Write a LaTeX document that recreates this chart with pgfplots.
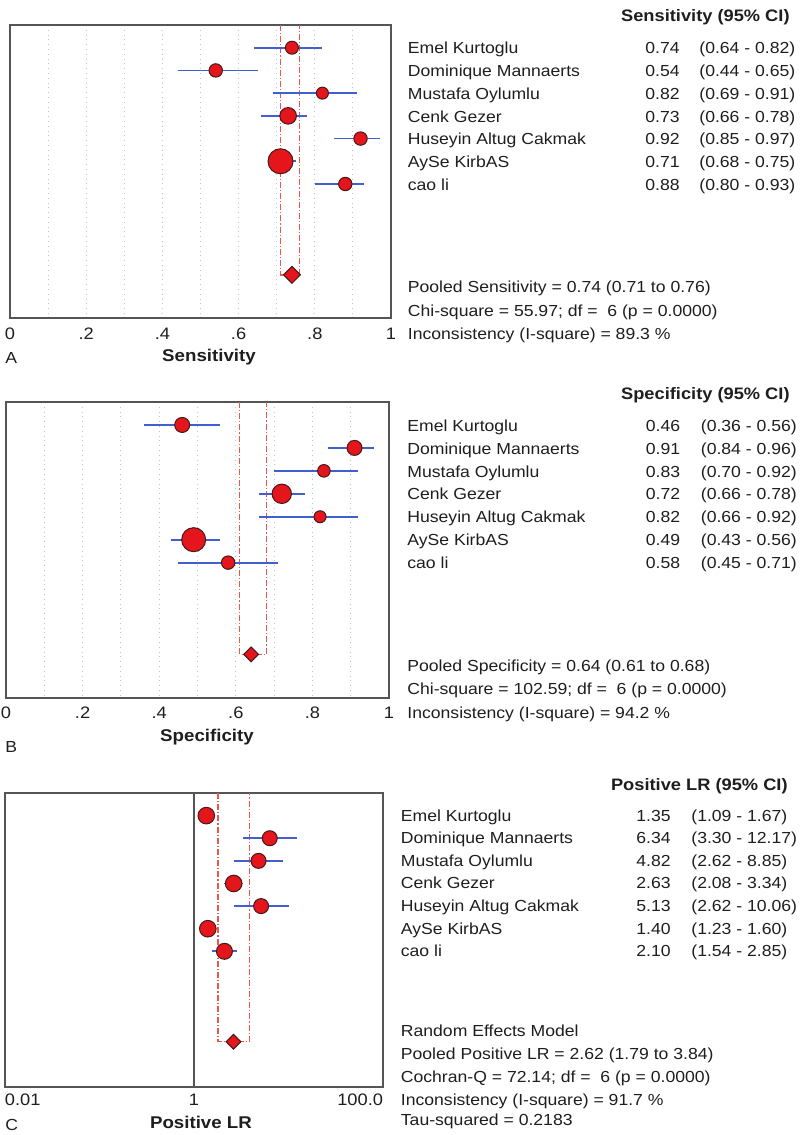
\documentclass[border=0pt]{standalone}
\usepackage{fontspec}
\setmainfont{Liberation Sans}[FakeStretch=1.1]
\usepackage{pgfplots}
\pgfplotsset{compat=1.18}
\definecolor{mred}{RGB}{228,22,28}
\definecolor{medge}{RGB}{70,25,25}
\definecolor{ciblue}{RGB}{65,95,205}
\definecolor{dred}{RGB}{240,85,75}
\definecolor{gridb}{RGB}{175,198,230}
\definecolor{framec}{RGB}{85,85,85}
\definecolor{txt}{RGB}{30,30,30}
\pgfplotsset{
 forest/.style={
   scale only axis, y dir=reverse, ymin=0, ymax=12.9,
   ytick=\empty, axis line style={framec, line width=0.7pt},
   major tick length=0pt, minor tick length=0pt,
   xticklabel style={anchor=base, font=\fontsize{8.3}{10}\selectfont, text=txt},
   every axis x label/.style={at={(axis description cs:0.5,0)}, anchor=base, font=\bfseries\fontsize{8.5}{10}\selectfont, text=txt},
   clip=false,
 },
 markers/.style={scatter, only marks, mark=*, scatter/use mapped color={draw=medge, fill=mred},
   visualization depends on={\thisrow{r}\as\rr},
   scatter/@pre marker code/.append style={/tikz/mark size=\rr}, line width=0.5pt},
 ci/.style={ciblue, line width=0.9pt, forget plot},
 pooledci/.style={dred, line width=0.7pt, dash pattern=on 3pt off 1pt on 0.6pt off 1pt, forget plot},
 diam/.style={only marks, mark=square*, mark size=#1, mark options={rotate=45, fill=mred, draw=medge, line width=0.5pt}},
}
\begin{document}
\begin{tikzpicture}
\path[use as bounding box] (0,0) rectangle (400pt,-567.5pt);
% ---------------- A ----------------
\begin{axis}[forest, at={(5pt,-12.5pt)}, anchor=north west, width=190.5pt, height=146.5pt,
  xmin=0, xmax=1, xtick={0,0.2,0.4,0.6,0.8,1}, xticklabels={0,.2,.4,.6,.8,1},
  minor xtick={0.1,0.3,0.5,0.7,0.9}, xmajorgrids, xminorgrids,
  grid style={gridb, dotted, line width=0.5pt},
  xticklabel style={yshift=-10.5pt},
  xlabel={Sensitivity}, every axis x label/.append style={yshift=-21.85pt, xshift=4.25pt}]
\addplot[pooledci] coordinates {(0.71,0) (0.71,11) (0.76,11) (0.76,0)};
\addplot[markers] table {
x y r
0.74 1 3.25
0.54 2 3.35
0.82 3 3.0
0.73 4 4.15
0.92 5 3.35
0.71 6 6.25
0.88 7 3.35
};
\addplot[ci] coordinates {(0.64,1) (0.82,1)};
\addplot[ci] coordinates {(0.44,2) (0.65,2)};
\addplot[ci] coordinates {(0.69,3) (0.91,3)};
\addplot[ci] coordinates {(0.66,4) (0.78,4)};
\addplot[ci] coordinates {(0.85,5) (0.97,5)};
\addplot[ci] coordinates {(0.68,6) (0.75,6)};
\addplot[ci] coordinates {(0.80,7) (0.93,7)};
\addplot[diam=3pt] coordinates {(0.74,11)};
\end{axis}
% ---------------- B ----------------
\begin{axis}[forest, at={(3pt,-201pt)}, anchor=north west, width=191.5pt, height=148pt,
  xmin=0, xmax=1, xtick={0,0.2,0.4,0.6,0.8,1}, xticklabels={0,.2,.4,.6,.8,1},
  minor xtick={0.1,0.3,0.5,0.7,0.9}, xmajorgrids, xminorgrids,
  grid style={gridb, dotted, line width=0.5pt},
  xticklabel style={yshift=-10pt},
  xlabel={Specificity}, every axis x label/.append style={yshift=-21.85pt, xshift=4.75pt}]
\addplot[pooledci] coordinates {(0.61,0) (0.61,11) (0.68,11) (0.68,0)};
\addplot[markers] table {
x y r
0.46 1 3.75
0.91 2 3.75
0.83 3 3.15
0.72 4 4.85
0.82 5 3.0
0.49 6 6.0
0.58 7 3.35
};
\addplot[ci] coordinates {(0.36,1) (0.56,1)};
\addplot[ci] coordinates {(0.84,2) (0.96,2)};
\addplot[ci] coordinates {(0.70,3) (0.92,3)};
\addplot[ci] coordinates {(0.66,4) (0.78,4)};
\addplot[ci] coordinates {(0.66,5) (0.92,5)};
\addplot[ci] coordinates {(0.43,6) (0.56,6)};
\addplot[ci] coordinates {(0.45,7) (0.71,7)};
\addplot[diam=2.6pt] coordinates {(0.64,11)};
\end{axis}
% ---------------- C ----------------
\begin{axis}[forest, at={(2.5pt,-396.5pt)}, anchor=north west, width=189pt, height=147pt,
  ymax=13, xmode=log, xmin=0.01, xmax=100, xtick={0.01,1,100},
  xticklabels={\makebox[0pt][l]{0.01},1,\makebox[0pt][r]{100.0}},
  xticklabel style={yshift=-9pt},
  xlabel={Positive LR}, every axis x label/.append style={yshift=-20.65pt, xshift=3.5pt}]
\addplot[framec, line width=0.6pt, forget plot] coordinates {(1,0) (1,13)};
\addplot[pooledci] coordinates {(1.79,0) (1.79,11) (3.84,11) (3.84,0)};
\addplot[markers] table {
x y r
1.35 1 4.15
6.34 2 3.75
4.82 3 3.75
2.63 4 4.15
5.13 5 3.75
1.40 6 4.15
2.10 7 4.0
};
\addplot[ci] coordinates {(1.09,1) (1.67,1)};
\addplot[ci] coordinates {(3.30,2) (12.17,2)};
\addplot[ci] coordinates {(2.62,3) (8.85,3)};
\addplot[ci] coordinates {(2.08,4) (3.34,4)};
\addplot[ci] coordinates {(2.62,5) (10.06,5)};
\addplot[ci] coordinates {(1.23,6) (1.60,6)};
\addplot[ci] coordinates {(1.54,7) (2.85,7)};
\addplot[diam=2.6pt] coordinates {(2.62,11)};
\end{axis}
% ---------------- text ----------------
\begin{scope}[x=0.5pt, y=-0.5pt, every node/.style={inner sep=0pt, text=txt, font=\fontsize{8}{9.6}\selectfont}]
% A
\node[anchor=base east, font=\bfseries\fontsize{8.3}{10}\selectfont] at (790,21) {Sensitivity (95\% CI)};
\foreach \n/\v/\c [count=\i from 0] in {Emel Kurtoglu/0.74/(0.64 - 0.82), Dominique Mannaerts/0.54/(0.44 - 0.65), Mustafa Oylumlu/0.82/(0.69 - 0.91), Cenk Gezer/0.73/(0.66 - 0.78), Huseyin Altug Cakmak/0.92/(0.85 - 0.97), AySe KirbAS/0.71/(0.68 - 0.75), cao li/0.88/(0.80 - 0.93)}{
  \node[anchor=base west] at (407.5,{54+22.7*\i}) {\n};
  \node[anchor=base east] at (680,{54+22.7*\i}) {\v};
  \node[anchor=base west] at (699,{54+22.7*\i}) {\c};
}
\node[anchor=base west] at (407.5,292) {Pooled Sensitivity = 0.74 (0.71 to 0.76)};
\node[anchor=base west] at (407.5,316) {Chi-square = 55.97; df = \ 6 (p = 0.0000)};
\node[anchor=base west] at (407.5,339) {Inconsistency (I-square) = 89.3 \%};
\node[anchor=base west] at (5,363) {A};
% B
\node[anchor=base east, font=\bfseries\fontsize{8.3}{10}\selectfont] at (790,399.5) {Specificity (95\% CI)};
\foreach \n/\v/\c [count=\i from 0] in {Emel Kurtoglu/0.46/(0.36 - 0.56), Dominique Mannaerts/0.91/(0.84 - 0.96), Mustafa Oylumlu/0.83/(0.70 - 0.92), Cenk Gezer/0.72/(0.66 - 0.78), Huseyin Altug Cakmak/0.82/(0.66 - 0.92), AySe KirbAS/0.49/(0.43 - 0.56), cao li/0.58/(0.45 - 0.71)}{
  \node[anchor=base west] at (407,{431.5+22.8*\i}) {\n};
  \node[anchor=base east] at (680.5,{431.5+22.8*\i}) {\v};
  \node[anchor=base west] at (700.5,{431.5+22.8*\i}) {\c};
}
\node[anchor=base west] at (407,671) {Pooled Specificity = 0.64 (0.61 to 0.68)};
\node[anchor=base west] at (407,694) {Chi-square = 102.59; df = \ 6 (p = 0.0000)};
\node[anchor=base west] at (407,718) {Inconsistency (I-square) = 94.2 \%};
\node[anchor=base west] at (5,752) {B};
% C
\node[anchor=base east, font=\bfseries\fontsize{8.3}{10}\selectfont] at (788,790) {Positive LR (95\% CI)};
\foreach \n/\v/\c [count=\i from 0] in {Emel Kurtoglu/1.35/(1.09 - 1.67), Dominique Mannaerts/6.34/(3.30 - 12.17), Mustafa Oylumlu/4.82/(2.62 - 8.85), Cenk Gezer/2.63/(2.08 - 3.34), Huseyin Altug Cakmak/5.13/(2.62 - 10.06), AySe KirbAS/1.40/(1.23 - 1.60), cao li/2.10/(1.54 - 2.85)}{
  \node[anchor=base west] at (400.5,{821+22.6*\i}) {\n};
  \node[anchor=base east] at (671,{821+22.6*\i}) {\v};
  \node[anchor=base west] at (691,{821+22.6*\i}) {\c};
}
\node[anchor=base west] at (400.5,1036) {Random Effects Model};
\node[anchor=base west] at (400.5,1059.6) {Pooled Positive LR = 2.62 (1.79 to 3.84)};
\node[anchor=base west] at (400.5,1082.5) {Cochran-Q = 72.14; df = \ 6 (p = 0.0000)};
\node[anchor=base west] at (400.5,1105) {Inconsistency (I-square) = 91.7 \%};
\node[anchor=base west] at (400.5,1125.8) {Tau-squared = 0.2183};
\node[anchor=base west] at (5,1130) {C};
\end{scope}
\end{tikzpicture}
\end{document}
